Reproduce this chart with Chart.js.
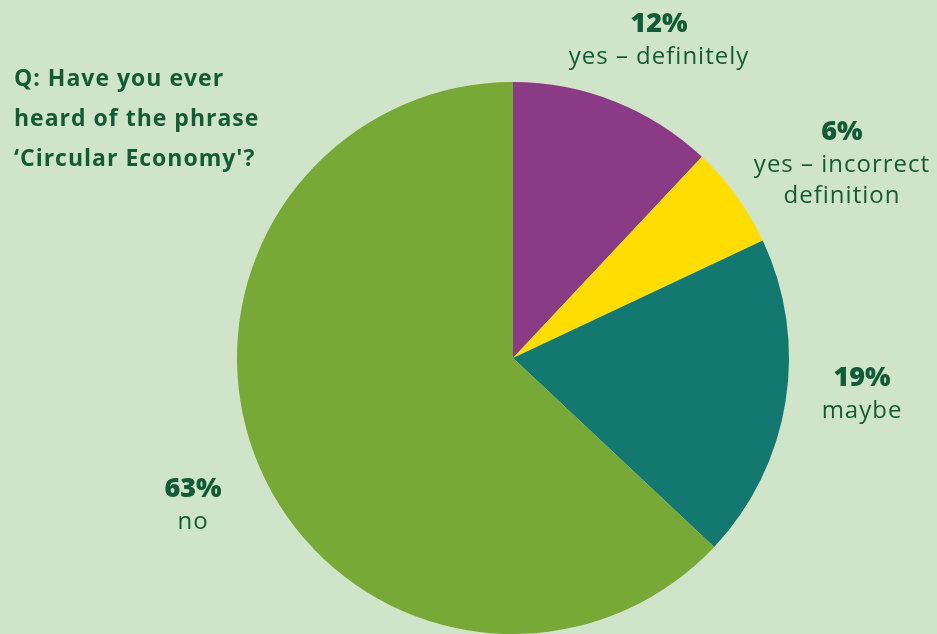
<!DOCTYPE html>
<html>
<head>
<meta charset="utf-8">
<script src="https://cdn.jsdelivr.net/npm/chart.js@4.4.1/dist/chart.umd.min.js"></script>
<style>
  html, body { margin: 0; padding: 0; background: #cfe4c8; overflow: hidden; }
  #wrap { position: relative; width: 937px; height: 634px; }
  #js--chart--1 { position: absolute; left: 0; top: 0; }
  .txt { position: absolute; color: #115c36; font-family: "Open Sans", sans-serif; white-space: nowrap; }
  .q { left: 14px; top: 57px; font-size: 23px; font-weight: 700; line-height: 40px; letter-spacing: 1px; }
  .lbl { text-align: center; transform: translateX(-50%); font-size: 24px; line-height: 31px; letter-spacing: 1px; }
  .lbl b { display: block; font-size: 27px; font-weight: 800; line-height: 34px; letter-spacing: 0; }
</style>
</head>
<body>
<div id="wrap">
  <canvas id="js--chart--1" width="937" height="634"></canvas>
  <div class="txt q">Q: Have you ever<br>heard of the phrase<br>‘Circular Economy'?</div>
  <div class="txt lbl" style="left:659px; top:5px;"><b>12%</b>yes – definitely</div>
  <div class="txt lbl" style="left:842px; top:113px;"><b>6%</b>yes – incorrect<br>definition</div>
  <div class="txt lbl" style="left:862px; top:359px;"><b>19%</b>maybe</div>
  <div class="txt lbl" style="left:193px; top:470px;"><b>63%</b>no</div>
</div>
<script>
const labels = ["yes – definitely", "yes – incorrect definition", "maybe", "no"];
const values = [12, 6, 19, 63];
const colors = ["#8b3a86", "#ffdd00", "#137870", "#78a836"];

const data = {
    labels: labels,
    datasets: [
        {
            label: "Have you ever heard of the phrase 'Circular Economy'?",
            data: values,
            backgroundColor: colors,
            borderWidth: 0
        }
    ]
};

const config = {
    type: "pie",
    data: data,
    options: {
        responsive: false,
        animation: false,
        layout: { padding: { left: 236, right: 147, top: 82, bottom: 0 } },
        plugins: {
            legend: { display: false },
            tooltip: { enabled: false }
        }
    }
};

const chart1 = new Chart(document.getElementById("js--chart--1"), config);
</script>
</body>
</html>
